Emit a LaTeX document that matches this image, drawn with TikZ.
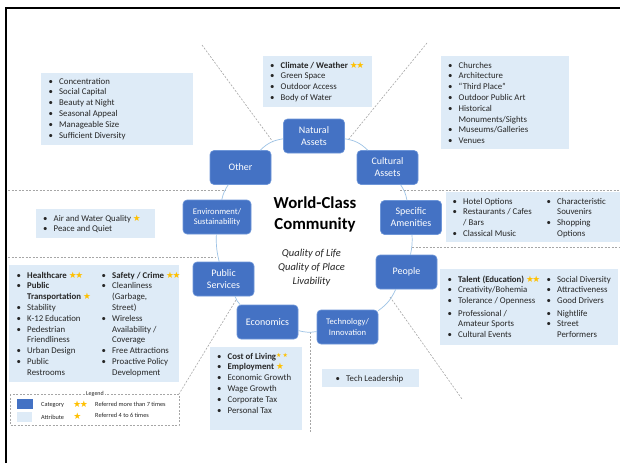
\documentclass[tikz,border=0pt]{standalone}
\usepackage{fontspec}
\setmainfont{Carlito}
\newfontfamily\symf{DejaVu Sans}
\definecolor{catblue}{HTML}{4472C4}
\definecolor{catedge}{HTML}{6E96D8}
\definecolor{attrfill}{HTML}{DEEBF7}
\definecolor{ringc}{HTML}{9DC3E6}
\definecolor{sepc}{HTML}{A6A6A6}
\definecolor{starc}{HTML}{FFC000}
\definecolor{txt}{HTML}{262626}
% list helpers
\newcommand\bu{\makebox[10.5pt][l]{\textbullet}}
\newcommand\ci{\hspace*{10.5pt}}
\newcommand\stwo{\textcolor{starc}{\symf\kern2pt★\kern-1.5pt★}}
\newcommand\sone{\textcolor{starc}{\symf\kern2pt★}}
\newcommand\ssmall{\textcolor{starc}{\symf\fontsize{6}{6}\selectfont\raisebox{1.5pt}{★\,★}}}
\begin{document}
\begin{tikzpicture}[x=1pt,y=-1pt,
  cat/.style={draw=catedge, line width=0.6pt, fill=catblue, rounded corners=4pt,
    text=white, align=center, minimum width=61pt, minimum height=34pt,
    inner sep=1pt, font=\fontsize{10}{12}\selectfont},
  catsmall/.style={cat, font=\fontsize{8.6}{10.5}\selectfont},
  ring/.style={draw=ringc, line width=0.7pt},
  sep/.style={draw=sepc, line width=0.6pt, dash pattern=on 2pt off 1.5pt},
  attr/.style={fill=attrfill},
  % lists are placed by the baseline of their last line
  lst/.style={anchor=base west, inner sep=0pt, align=left, text=txt,
    font=\fontsize{8.8}{10.8}\selectfont},
  leg/.style={inner sep=0pt, text=txt, font=\fontsize{6.3}{7}\selectfont}
]
\useasboundingbox (0,0) rectangle (620,463);
\fill[white] (0,0) rectangle (620,463);

% page frame
\draw[line width=2.5pt, black] (6,463) -- (6,8) -- (620,8);

% separators
\coordinate (s1a) at (202,45);  \coordinate (s1b) at (273,142);
\coordinate (s2a) at (427,43);  \coordinate (s2b) at (348,140);
\coordinate (s3a) at (8,190);   \coordinate (s3b) at (226,190);
\coordinate (s4a) at (8,257);   \coordinate (s4b) at (215,257);
\coordinate (s5a) at (400,190); \coordinate (s5b) at (620,190);
\coordinate (s6a) at (412,247); \coordinate (s6b) at (620,247);
\coordinate (s7a) at (390,297); \coordinate (s7b) at (462,399);
\coordinate (s8a) at (310,332); \coordinate (s8b) at (310,433);
\coordinate (s9a) at (236,300); \coordinate (s9b) at (179,394);
\foreach \s in {s1,s2,s3,s4,s5,s6,s7,s8,s9}
  \draw[sep] (\s a) -- (\s b);

% attribute boxes
\fill[attr] (41,73) rectangle (193,145);
\fill[attr] (263,56) rectangle (372,107);
\fill[attr] (441,56) rectangle (569,149);
\fill[attr] (36,209) rectangle (155,238);
\fill[attr] (9,265) rectangle (179,382);
\fill[attr] (446,192) rectangle (620,242);
\fill[attr] (440,269) rectangle (618,345);
\fill[attr] (210,347) rectangle (302,430);
\fill[attr] (322,369) rectangle (419,387);

% attribute lists
\node[lst] (lOther) at (48.5,138) {\bu Concentration\\ \bu Social Capital\\ \bu Beauty at Night\\
  \bu Seasonal Appeal\\ \bu Manageable Size\\ \bu Sufficient Diversity};
\node[lst] (lNat) at (270,100.4) {\bu\textbf{Climate / Weather}\stwo\\ \bu Green Space\\
  \bu Outdoor Access\\ \bu Body of Water};
\node[lst] (lCul) at (448,143.6) {\bu Churches\\ \bu Architecture\\ \bu “Third Place”\\
  \bu Outdoor Public Art\\ \bu Historical\\ \ci Monuments/Sights\\ \bu Museums/Galleries\\ \bu Venues};
\node[lst] (lEnv) at (43,231.8) {\bu Air and Water Quality\sone\\ \bu Peace and Quiet};
\node[lst] (lPub1) at (16.5,375.2) {\bu\textbf{Healthcare}\stwo\\ \bu\textbf{Public}\\
  \ci\textbf{Transportation}\sone\\ \bu Stability\\ \bu K-12 Education\\ \bu Pedestrian\\
  \ci Friendliness\\ \bu Urban Design\\ \bu Public\\ \ci Restrooms};
\node[lst] (lPub2) at (101.5,375.2) {\bu\textbf{Safety / Crime}\stwo\\ \bu Cleanliness\\
  \ci(Garbage,\\ \ci Street)\\ \bu Wireless\\ \ci Availability /\\ \ci Coverage\\
  \bu Free Attractions\\ \bu Proactive Policy\\ \ci Development};
\node[lst] (lSpe1) at (452.5,236.4) {\bu Hotel Options\\ \bu Restaurants / Cafes\\ \ci / Bars\\ \bu Classical Music};
\node[lst] (lSpe2) at (546.5,236.4) {\bu Characteristic\\ \ci Souvenirs\\ \bu Shopping\\ \ci Options};
\node[lst, font=\fontsize{8.8}{10.6}\selectfont] (lPeo1) at (447.5,337.2) {\bu\textbf{Talent (Education)}\stwo\\
  \bu Creativity/Bohemia\\ \bu Tolerance / Openness\\[2.2pt] \bu Professional /\\
  \ci Amateur Sports\\ \bu Cultural Events};
\node[lst, font=\fontsize{8.8}{10.6}\selectfont] (lPeo2) at (546.5,337.2) {\bu Social Diversity\\
  \bu Attractiveness\\ \bu Good Drivers\\[2.2pt] \bu Nightlife\\ \bu Street\\ \ci Performers};
\node[lst] (lEco) at (217,413) {\bu\textbf{Cost of Living}\ssmall\\ \bu\textbf{Employment}\sone\\
  \bu Economic Growth\\ \bu Wage Growth\\ \bu Corporate Tax\\ \bu Personal Tax};
\node[lst] (lTec) at (335.5,381) {\bu Tech Leadership};

% categories
\node[cat] (nat) at (314,136) {Natural\\Assets};
\node[cat] (cul) at (387.5,167.5) {Cultural\\Assets};
\node[cat] (oth) at (240.5,167.5) {Other};
\node[catsmall, minimum width=68pt] (env) at (217,217) {Environment/\\Sustainability};
\node[cat] (spe) at (411,217.5) {Specific\\Amenities};
\node[cat] (pub) at (223.5,279) {Public\\Services};
\node[cat] (peo) at (406.5,272) {People};
\node[cat] (eco) at (267.5,322) {Economics};
\node[catsmall] (tec) at (347.5,327) {Technology/\\Innovation};

% ring connectors
\draw[ring] (nat) to[bend left=18] (cul);
\draw[ring] (cul) to[bend left=12] (spe);
\draw[ring] (spe) to[bend left=8] (peo);
\draw[ring] (peo) to[bend left=15] (tec);
\draw[ring] (tec) to[bend left=12] (eco);
\draw[ring] (eco) to[bend left=12] (pub);
\draw[ring] (pub) to[bend left=8] (env);
\draw[ring] (env) to[bend left=10] (oth);
\draw[ring] (oth) to[bend left=18] (nat);

% centre titles
\node[align=center, inner sep=0pt, font=\bfseries\fontsize{16.8}{21}\selectfont] (title) at (315,214) {World-Class\\Community};
\node[align=center, inner sep=0pt, text=txt, font=\itshape\fontsize{10.5}{14}\selectfont] (sub) at (311.5,268) {Quality of Life\\Quality of Place\\Livability};

% legend
\draw[sep] (10,394) rectangle (179,425);
\node[leg, fill=white, inner xsep=1pt, font=\fontsize{6}{7}\selectfont] (legt) at (95,394) {Legend};
\fill[catblue] (17,399) rectangle (33,409);
\fill[attrfill] (17,412) rectangle (32,422);
\node[leg, anchor=west] (lcat) at (41,404.5) {Category};
\node[leg, anchor=west] (latt) at (41,417) {Attribute};
\node[inner sep=0pt, text=starc, font=\symf\fontsize{9}{9}\selectfont] (lst2) at (80.5,404) {★\kern-1.5pt★};
\node[inner sep=0pt, text=starc, font=\symf\fontsize{9}{9}\selectfont] (lst1) at (77.5,416) {★};
\node[leg, anchor=west] (lr2) at (95,404) {Referred more than 7 times};
\node[leg, anchor=west] (lr1) at (95,415.5) {Referred 4 to 6 times};
\end{tikzpicture}
\end{document}
